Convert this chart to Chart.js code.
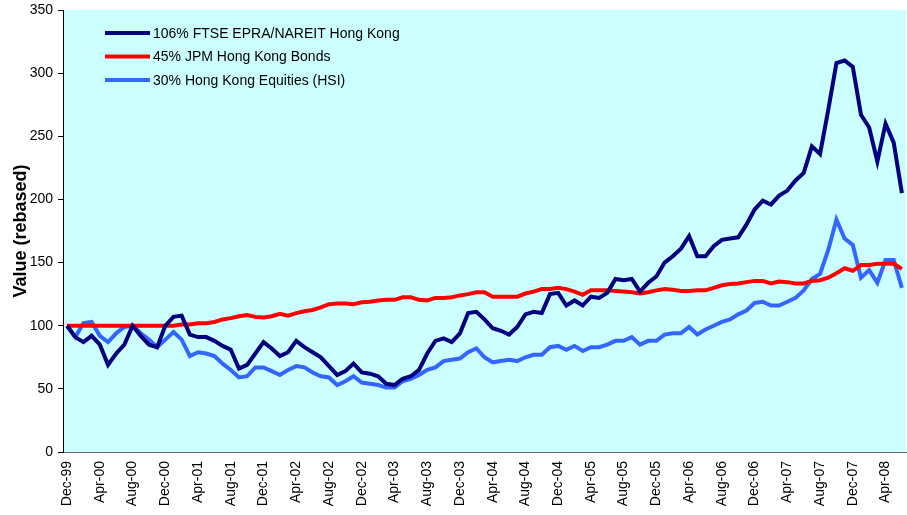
<!DOCTYPE html>
<html>
<head>
    <title>Hong Kong REITs vs Bonds vs Equities</title>
    <script src="https://cdn.jsdelivr.net/npm/chart.js"></script>
    <style>
        body {
            margin: 0;
            background: #ffffff;
            font-family: "Liberation Sans", Arial, sans-serif;
        }
        #wrap {
            width: 907px;
            height: 515px;
        }
    </style>
</head>
<body>
    <div id="wrap">
        <canvas id="rebasedChart" width="907" height="515"></canvas>
    </div>

    <script>
        // monthly points, Dec-99 .. Jun-08
        const MONTH_NAMES = ["Jan", "Feb", "Mar", "Apr", "May", "Jun", "Jul", "Aug", "Sep", "Oct", "Nov", "Dec"];
        const tickLabels = ["Dec-99", "Apr-00", "Aug-00", "Dec-00", "Apr-01", "Aug-01", "Dec-01", "Apr-02",
            "Aug-02", "Dec-02", "Apr-03", "Aug-03", "Dec-03", "Apr-04", "Aug-04", "Dec-04", "Apr-05",
            "Aug-05", "Dec-05", "Apr-06", "Aug-06", "Dec-06", "Apr-07", "Aug-07", "Dec-07", "Apr-08"];

        const reits = [100, 91, 87, 92, 85, 69, 78, 85, 100, 92, 85, 83, 100, 107, 108, 93, 91, 91, 88, 84,
            81, 66, 69, 78, 87, 82, 76, 79, 88, 83, 79, 75, 68, 61, 64, 70, 63, 62, 60, 54,
            53, 58, 60, 65, 78, 88, 90, 87, 94, 110, 111, 105, 98, 96, 93, 99, 109, 111, 110, 125,
            126, 116, 120, 116, 123, 122, 126, 137, 136, 137, 127, 134, 139, 150, 155, 161, 171, 155, 155, 163,
            168, 169, 170, 180, 192, 199, 196, 203, 207, 215, 221, 242, 236, 271, 308, 310, 305, 267, 257, 230,
            260, 245, 205];
        const bonds = [100, 100, 100, 100, 100, 100, 100, 100, 100, 100, 100, 100, 100, 100, 101, 101, 102, 102, 103, 105,
            106, 107.5, 108.5, 107, 106.5, 107.5, 109.5, 108, 110, 111.5, 112.5, 114.5, 117, 117.5, 117.5, 117, 118.5, 119, 120, 120.5,
            120.5, 122.5, 122.5, 120.5, 120, 122, 122, 122.5, 124, 125, 126.5, 126.5, 123, 123, 123, 123, 125.5, 127, 129, 129,
            130, 129, 127, 124.5, 128, 128, 128, 127.5, 127, 126.5, 125.5, 126.5, 128, 129, 128.5, 127.5, 127.5, 128, 128, 130,
            132, 133, 133.5, 134.5, 135.5, 135.5, 133.5, 135, 134.5, 133.5, 133.5, 135.5, 136, 138, 141.5, 145.5, 143.5, 148, 148, 149,
            149, 149, 145];
        const equities = [100, 91, 102, 103, 92, 87, 94, 99, 100, 94, 89, 83, 89, 95, 89, 76, 79, 78, 76, 70,
            65, 59, 60, 67, 67, 64, 61, 65, 68, 67, 63, 60, 59, 53, 56, 60, 55, 54, 53, 51,
            51, 56, 58, 61, 65, 67, 72, 73, 74, 79, 82, 75, 71, 72, 73, 72, 75, 77, 77, 83,
            84, 81, 84, 80, 83, 83, 85, 88, 88, 91, 85, 88, 88, 93, 94, 94, 99, 93, 97, 100,
            103, 105, 109, 112, 118, 119, 116, 116, 119, 122, 128, 137, 141, 160, 184, 169, 164, 138, 144, 134,
            152, 152, 130];

        const seriesNames = ["106% FTSE EPRA/NAREIT Hong Kong", "45% JPM Hong Kong Bonds", "30% Hong Kong Equities (HSI)"];
        const seriesColors = ["#000080", "#FF0000", "#3366FF"];

        // build month categories from Dec-99
        let months = [];
        for (let i = 0; i < reits.length; i++) {
            let m = (11 + i) % 12;
            let y = (1999 + Math.floor((11 + i) / 12)) % 100;
            months.push(MONTH_NAMES[m] + "-" + String(y).padStart(2, "0"));
        }

        const FONT = "'Liberation Sans', Arial, sans-serif";

        // light cyan plot area
        const plotBackground = {
            id: "plotBackground",
            beforeDraw(chart) {
                const a = chart.chartArea;
                const ctx = chart.ctx;
                ctx.save();
                ctx.fillStyle = "#CCFFFF";
                ctx.fillRect(a.left, a.top, a.right - a.left, a.bottom - a.top);
                ctx.restore();
            }
        };

        // legend drawn inside the plot, top left
        const insideLegend = {
            id: "insideLegend",
            afterDatasetsDraw(chart) {
                const ctx = chart.ctx;
                ctx.save();
                ctx.font = "14px " + FONT;
                ctx.textBaseline = "middle";
                ctx.textAlign = "left";
                chart.data.datasets.forEach((ds, i) => {
                    let y = 33 + i * 23.5;
                    ctx.strokeStyle = ds.borderColor;
                    ctx.lineWidth = 4;
                    ctx.beginPath();
                    ctx.moveTo(105, y);
                    ctx.lineTo(150, y);
                    ctx.stroke();
                    ctx.fillStyle = "#000";
                    ctx.fillText(ds.label, 153, y + 1);
                });
                ctx.restore();
            }
        };

        const datasets = [reits, bonds, equities].map((vals, i) => ({
            label: seriesNames[i],
            data: vals,
            borderColor: seriesColors[i],
            backgroundColor: seriesColors[i],
            borderWidth: 4,
            pointRadius: 0,
            tension: 0,
            fill: false,
            order: i
        }));

        const ctx = document.getElementById("rebasedChart").getContext("2d");
        new Chart(ctx, {
            type: "line",
            data: {
                labels: months,
                datasets: datasets
            },
            options: {
                responsive: false,
                animation: false,
                layout: {
                    padding: { top: 10, right: 1, left: 0, bottom: 0 }
                },
                plugins: {
                    legend: { display: false },
                    tooltip: { enabled: false }
                },
                scales: {
                    x: {
                        type: "category",
                        offset: true,
                        afterFit(scale) {
                            scale.height = 63;
                            scale.paddingLeft = 0;
                            scale.paddingRight = 0;
                        },
                        grid: { display: false, drawTicks: false },
                        border: { display: true, color: "#666666", width: 1 },
                        ticks: {
                            autoSkip: false,
                            maxRotation: 90,
                            minRotation: 90,
                            padding: 9,
                            color: "#000",
                            font: { family: FONT, size: 14 },
                            callback: function (value, index) {
                                return index % 4 === 0 ? tickLabels[index / 4] : null;
                            }
                        }
                    },
                    y: {
                        min: 0,
                        max: 350,
                        afterFit(scale) {
                            scale.width = 63;
                            scale.paddingTop = 0;
                            scale.paddingBottom = 0;
                        },
                        grid: {
                            drawOnChartArea: false,
                            drawTicks: true,
                            tickLength: 5,
                            color: "#000"
                        },
                        border: { display: true, color: "#000", width: 1 },
                        ticks: {
                            stepSize: 50,
                            padding: 5,
                            color: "#000",
                            font: { family: FONT, size: 14 }
                        },
                        title: {
                            display: true,
                            text: "Value (rebased)",
                            color: "#000",
                            font: { family: FONT, size: 18, weight: "bold" },
                            padding: { top: 10, bottom: 0 }
                        }
                    }
                }
            },
            plugins: [plotBackground, insideLegend]
        });
    </script>
</body>
</html>
